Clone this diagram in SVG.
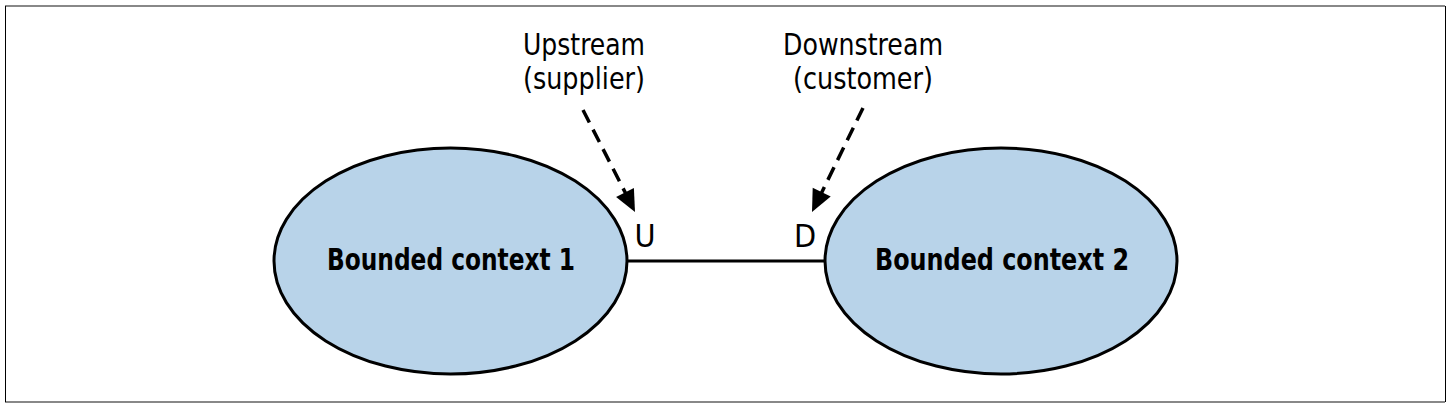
<svg xmlns="http://www.w3.org/2000/svg" width="1452" height="408" viewBox="0 0 1452 408">
<style>
.lbl{font-family:"DejaVu Sans Condensed","DejaVu Sans","Liberation Sans",sans-serif;font-stretch:condensed;font-size:30px;fill:#000;text-anchor:middle}
.big{font-size:32px}
.node{font-family:"DejaVu Sans Condensed","DejaVu Sans","Liberation Sans",sans-serif;font-stretch:condensed;font-weight:bold;font-size:31px;fill:#000;text-anchor:middle}
.ell{fill:#b8d3e9;stroke:#000;stroke-width:3}
.dash{stroke:#000;stroke-width:3.5;stroke-dasharray:14 8;fill:none}
.head{fill:#000}
</style>
<rect x="0" y="0" width="1452" height="408" fill="#fff"/>
<g id="frame">
<line x1="5" y1="6" x2="1445" y2="6" stroke="#888" stroke-width="2"/>
<line x1="5" y1="402" x2="1445" y2="402" stroke="#888" stroke-width="2"/>
<line x1="5.5" y1="6" x2="5.5" y2="402" stroke="#000" stroke-width="1"/>
<line x1="1445.5" y1="6" x2="1445.5" y2="402" stroke="#000" stroke-width="1"/>
</g>
<g id="connectors">
<line x1="627" y1="261" x2="825" y2="261" stroke="#000" stroke-width="3"/>
<line class="dash" x1="583" y1="110" x2="626" y2="194"/>
<polygon class="head" points="635,212 633.9,187.9 616.1,196.9"/>
<line class="dash" x1="863" y1="108" x2="821" y2="194"/>
<polygon class="head" points="812,212 830.7,196.6 812.7,187.8"/>
</g>
<g id="bc1">
<ellipse class="ell" cx="450.5" cy="261" rx="176.5" ry="113"/>
<text class="node" x="451" y="270" textLength="248" lengthAdjust="spacingAndGlyphs">Bounded context 1</text>
</g>
<g id="bc2">
<ellipse class="ell" cx="1001" cy="261" rx="176" ry="113"/>
<text class="node" x="1002" y="270" textLength="254" lengthAdjust="spacingAndGlyphs">Bounded context 2</text>
</g>
<g id="upstream-label">
<text class="lbl" x="584" y="55" textLength="122" lengthAdjust="spacingAndGlyphs">Upstream</text>
<text class="lbl" x="584" y="89" textLength="122" lengthAdjust="spacingAndGlyphs">(supplier)</text>
</g>
<g id="downstream-label">
<text class="lbl" x="863" y="55" textLength="160" lengthAdjust="spacingAndGlyphs">Downstream</text>
<text class="lbl" x="863" y="89" textLength="140" lengthAdjust="spacingAndGlyphs">(customer)</text>
</g>
<g id="u-label"><text class="lbl big" x="645" y="247">U</text></g>
<g id="d-label"><text class="lbl big" x="805" y="247">D</text></g>
</svg>
